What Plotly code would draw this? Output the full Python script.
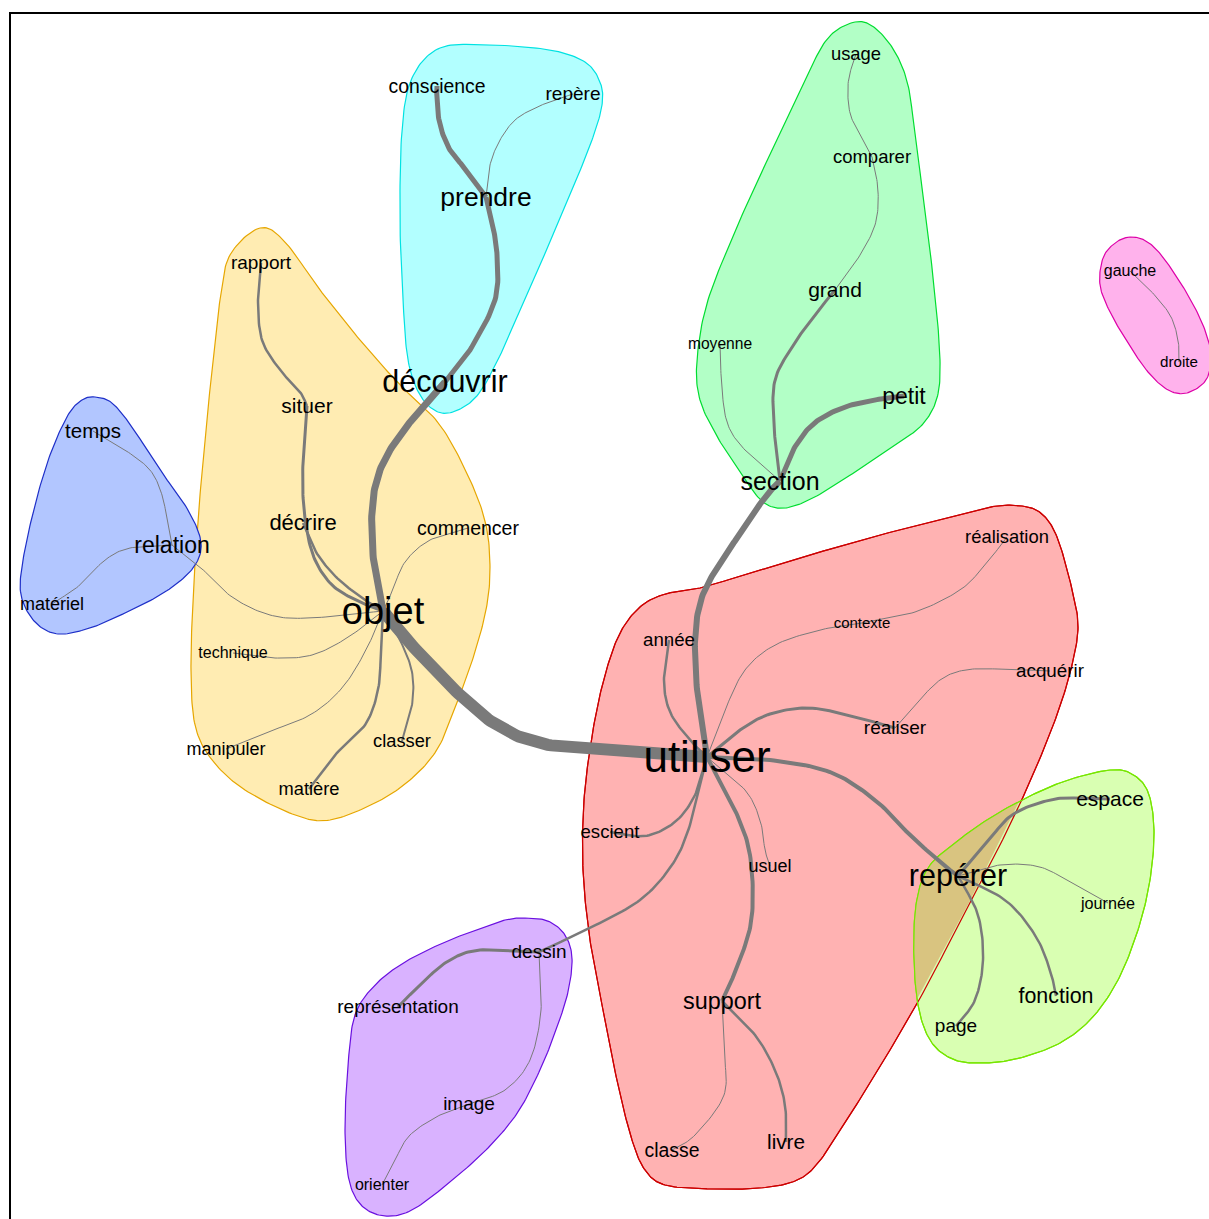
import numpy as np
import plotly.graph_objects as go

# ---------------- data ----------------
node_names = ["utiliser", "objet", "découvrir", "prendre", "conscience", "repère",
              "rapport", "situer", "décrire", "commencer", "technique", "manipuler",
              "matière", "classer", "temps", "relation", "matériel",
              "usage", "comparer", "grand", "moyenne", "petit", "section",
              "gauche", "droite",
              "réalisation", "contexte", "acquérir", "réaliser", "année", "escient",
              "usuel", "support", "classe", "livre",
              "repérer", "espace", "journée", "fonction", "page",
              "dessin", "représentation", "image", "orienter"]
node_x = [707, 383, 445, 486, 437, 573,
          261, 307, 303, 468, 233, 226,
          309, 402, 93, 172, 52,
          856, 872, 835, 720, 904, 780,
          1130, 1179,
          1007, 862, 1050, 895, 669, 610,
          770, 722, 672, 786,
          958, 1110, 1108, 1056, 956,
          539, 398, 469, 382]
node_y = [757, 611, 382, 197, 86, 94,
          263, 406, 523, 528, 653, 749,
          789, 741, 431, 545, 604,
          54, 157, 290, 344, 396, 481,
          271, 362,
          537, 623, 671, 728, 640, 832,
          866, 1001, 1150, 1142,
          876, 799, 903, 996, 1026,
          952, 1007, 1104, 1185]
node_size = [44, 38, 30.5, 26.5, 19.4, 19,
             19, 21, 22, 19.5, 16, 18,
             18.3, 18.3, 20.5, 23, 18,
             18.4, 18.5, 21, 15.6, 23, 25,
             16, 15.2,
             18.4, 15, 18.8, 19, 18.7, 18.6,
             18, 23.4, 19.4, 20.7,
             30.5, 21, 16.2, 21.4, 19,
             19, 19, 19, 16]

edge_src = ["utiliser", "objet", "découvrir", "prendre", "prendre", "utiliser", "section",
            "section", "grand", "comparer", "section", "gauche", "rapport", "situer",
            "décrire", "relation", "technique", "manipuler", "matière", "classer",
            "commencer", "temps", "relation", "année", "utiliser", "contexte",
            "utiliser", "réaliser", "utiliser", "utiliser", "utiliser", "utiliser",
            "utiliser", "support", "support", "repérer", "repérer", "repérer",
            "repérer", "dessin", "dessin", "image"]
edge_dst = ["objet", "découvrir", "prendre", "conscience", "repère", "section", "petit",
            "grand", "comparer", "usage", "moyenne", "droite", "situer", "objet",
            "objet", "objet", "objet", "objet", "objet", "objet",
            "objet", "relation", "matériel", "utiliser", "contexte", "réalisation",
            "réaliser", "acquérir", "repérer", "escient", "usuel", "support",
            "dessin", "classe", "livre", "espace", "journée", "fonction",
            "page", "représentation", "image", "orienter"]
edge_weight = [12, 7, 5, 5, 1, 6, 5,
               3, 1, 1, 1, 1, 2.5, 3,
               2.5, 1, 1, 1, 2.5, 2,
               1, 1, 1, 2.5, 1, 1,
               3, 1, 4, 2.5, 1, 4,
               2.5, 1, 2.5, 3, 1, 2.5,
               2.5, 3, 1, 1]
edge_bends = [
    [(640, 753), (590, 750), (535, 742), (495, 724), (460, 695), (425, 660)],
    [(374, 565), (372, 510), (380, 470), (400, 435), (425, 405)],
    [(470, 350), (495, 300), (497, 255), (492, 222)],
    [(468, 172), (450, 150), (440, 125), (437, 100)],
    [(490, 165), (500, 140), (515, 120), (535, 108), (555, 100)],
    [(698, 700), (695, 640), (702, 597), (722, 560), (745, 527), (765, 497)],
    [(792, 452), (812, 425), (842, 408), (875, 400)],
    [(775, 440), (774, 385), (790, 350), (815, 315)],
    [(857, 260), (875, 225), (878, 190)],
    [(860, 135), (850, 113), (848, 85), (853, 62)],
    [(745, 450), (728, 425), (722, 390)],
    [(1150, 290), (1170, 315), (1178, 340)],
    [(258, 300), (262, 340), (280, 370), (300, 392)],
    [(303, 460), (304, 510), (313, 555), (332, 585), (360, 602)],
    [(316, 552), (336, 577), (362, 598)],
    [(200, 567), (232, 597), (270, 615), (310, 618)],
    [(275, 658), (312, 655), (347, 638)],
    [(265, 733), (310, 715), (342, 688), (366, 650)],
    [(335, 755), (365, 725), (378, 690), (381, 650)],
    [(412, 705), (412, 672), (400, 640)],
    [(430, 540), (405, 562), (392, 592)],
    [(125, 450), (150, 470), (162, 495), (168, 525)],
    [(130, 548), (105, 560), (80, 585)],
    [(664, 680), (670, 712), (690, 740)],
    [(725, 710), (745, 670), (775, 645), (820, 630)],
    [(915, 612), (960, 590), (985, 565)],
    [(740, 730), (770, 714), (810, 708), (855, 717)],
    [(915, 705), (940, 680), (965, 670), (1000, 669)],
    [(770, 760), (830, 772), (875, 800), (910, 835), (940, 862)],
    [(695, 795), (675, 822), (645, 836)],
    [(745, 790), (760, 820), (765, 850)],
    [(735, 810), (750, 855), (752, 915), (740, 960)],
    [(690, 825), (672, 865), (640, 900), (590, 928)],
    [(724, 1050), (724, 1095), (695, 1135)],
    [(755, 1035), (775, 1070), (785, 1105)],
    [(985, 845), (1012, 815), (1050, 800), (1080, 798)],
    [(1000, 865), (1040, 867), (1075, 885)],
    [(1005, 900), (1035, 935), (1050, 970)],
    [(978, 915), (983, 960), (975, 1000)],
    [(480, 950), (450, 960), (425, 980)],
    [(541, 1010), (530, 1060), (505, 1090)],
    [(440, 1115), (410, 1135), (395, 1160)],
]

cluster_names = ["objet", "prendre", "relation", "section", "gauche", "utiliser", "repérer", "dessin"]
cluster_colors = ["#FFBF00", "#00FFFF", "#0040FF", "#00FF40", "#FF00BF", "#FF0000", "#80FF00", "#8000FF"]
cluster_borders = ["#E6A600", "#00E2E2", "#1E2FC8", "#00DD30", "#DD00A8", "#CC0000", "#77E600", "#6A10E0"]
cluster_hulls = [
    [(260, 228), (285, 242), (320, 290), (360, 340), (400, 385), (440, 425), (470, 480),
     (486, 525), (490, 570), (486, 610), (474, 655), (458, 700), (438, 748), (410, 780),
     (375, 803), (330, 820), (295, 815), (245, 790), (212, 760), (195, 725), (191, 670),
     (193, 600), (198, 520), (205, 440), (212, 370), (220, 300), (230, 255)],
    [(440, 48), (490, 45), (550, 50), (585, 62), (600, 82), (602, 105), (592, 140),
     (572, 190), (540, 265), (505, 345), (480, 392), (458, 410), (438, 412), (420, 395),
     (408, 360), (403, 300), (400, 220), (402, 130), (412, 78)],
    [(95, 397), (112, 403), (132, 427), (160, 470), (188, 510), (201, 543), (193, 568),
     (165, 592), (125, 613), (90, 628), (58, 634), (35, 622), (21, 595), (23, 560),
     (35, 505), (50, 455), (68, 415), (82, 400)],
    [(855, 22), (875, 28), (895, 52), (908, 85), (915, 135), (925, 210), (935, 295),
     (940, 360), (937, 398), (922, 425), (895, 445), (855, 472), (815, 497), (785, 508),
     (763, 502), (742, 475), (718, 438), (700, 400), (697, 360), (708, 300), (740, 220),
     (772, 150), (805, 80), (828, 38)],
    [(1130, 237), (1146, 241), (1162, 256), (1185, 290), (1203, 325), (1211, 355),
     (1206, 380), (1187, 393), (1168, 390), (1148, 372), (1128, 343), (1110, 312),
     (1100, 285), (1103, 258), (1115, 243)],
    [(700, 588), (760, 570), (820, 552), (880, 535), (940, 520), (990, 507), (1022, 506),
     (1042, 514), (1057, 537), (1071, 585), (1078, 625), (1072, 665), (1058, 712),
     (1035, 770), (1005, 835), (968, 905), (930, 980), (890, 1050), (850, 1115),
     (818, 1163), (795, 1181), (760, 1188), (710, 1189), (665, 1185), (645, 1170),
     (632, 1140), (618, 1085), (603, 1010), (590, 940), (583, 870), (584, 800),
     (593, 730), (605, 675), (620, 633), (640, 607), (665, 594)],
    [(1110, 770), (1132, 774), (1148, 792), (1154, 830), (1150, 880), (1138, 930),
     (1118, 980), (1092, 1018), (1060, 1043), (1020, 1058), (985, 1063), (955, 1060),
     (932, 1043), (919, 1010), (914, 960), (916, 905), (928, 868), (955, 843),
     (990, 818), (1030, 796), (1068, 780)],
    [(525, 918), (548, 921), (565, 935), (572, 958), (568, 992), (556, 1030),
     (540, 1070), (518, 1112), (488, 1148), (450, 1182), (412, 1210), (385, 1216),
     (362, 1206), (349, 1180), (345, 1130), (348, 1065), (355, 1015), (375, 985),
     (405, 962), (445, 942), (482, 928), (505, 920)],
]
overlap_color = "rgb(217,196,128)"
edge_color = "rgb(122,122,122)"


# ---------------- helpers ----------------
def catmull_closed(pts, n=16):
    P = np.array(pts, dtype=float)
    N = len(P)
    out = []
    for i in range(N):
        p0, p1, p2, p3 = P[(i - 1) % N], P[i], P[(i + 1) % N], P[(i + 2) % N]
        for t in np.linspace(0, 1, n, endpoint=False):
            t2, t3 = t * t, t * t * t
            pt = 0.5 * ((2 * p1) + (-p0 + p2) * t + (2 * p0 - 5 * p1 + 4 * p2 - p3) * t2
                        + (-p0 + 3 * p1 - 3 * p2 + p3) * t3)
            out.append(pt)
    out.append(out[0])
    return np.array(out)


def catmull_open(pts, n=16):
    P = np.array(pts, dtype=float)
    P = np.vstack([2 * P[0] - P[1], P, 2 * P[-1] - P[-2]])
    out = []
    for i in range(1, len(P) - 2):
        p0, p1, p2, p3 = P[i - 1], P[i], P[i + 1], P[i + 2]
        for t in np.linspace(0, 1, n, endpoint=False):
            t2, t3 = t * t, t * t * t
            pt = 0.5 * ((2 * p1) + (-p0 + p2) * t + (2 * p0 - 5 * p1 + 4 * p2 - p3) * t2
                        + (-p0 + 3 * p1 - 3 * p2 + p3) * t3)
            out.append(pt)
    out.append(P[-2])
    return np.array(out)


def signed_area(poly):
    x, y = poly[:, 0], poly[:, 1]
    return 0.5 * np.sum(x[:-1] * y[1:] - x[1:] * y[:-1])


def clip_poly(subject, clipper):
    orient = np.sign(signed_area(clipper))
    out = [tuple(p) for p in subject[:-1]]
    C = clipper[:-1]
    for i in range(len(C)):
        a, b = C[i], C[(i + 1) % len(C)]
        inp = out
        out = []
        if not inp:
            break

        def inside(p):
            return orient * ((b[0] - a[0]) * (p[1] - a[1]) - (b[1] - a[1]) * (p[0] - a[0])) >= 0

        def inter(p, q):
            d1 = np.array(q) - np.array(p)
            d2 = b - a
            den = d1[0] * d2[1] - d1[1] * d2[0]
            if abs(den) < 1e-12:
                return p
            t = ((a[0] - p[0]) * d2[1] - (a[1] - p[1]) * d2[0]) / den
            return (p[0] + t * d1[0], p[1] + t * d1[1])

        s = inp[-1]
        for e in inp:
            if inside(e):
                if not inside(s):
                    out.append(inter(s, e))
                out.append(e)
            elif inside(s):
                out.append(inter(s, e))
            s = e
    if out:
        out.append(out[0])
    return np.array(out)


def solid_tint(hexcol, a=0.3):
    h = hexcol.lstrip("#")
    r, g, b = int(h[0:2], 16), int(h[2:4], 16), int(h[4:6], 16)
    f = lambda c: int(round(a * c + (1 - a) * 255))
    return f"rgb({f(r)},{f(g)},{f(b)})"


pos = {n: (x, y) for n, x, y in zip(node_names, node_x, node_y)}

fig = go.Figure()

# hull fills
smoothed = {}
for name, col, bcol, pts in zip(cluster_names, cluster_colors, cluster_borders, cluster_hulls):
    sm = catmull_closed(pts)
    smoothed[name] = sm
    fig.add_trace(go.Scatter(x=sm[:, 0], y=sm[:, 1], mode="lines", fill="toself",
                             fillcolor=solid_tint(col), line=dict(color=bcol, width=1.2),
                             hoverinfo="skip", showlegend=False))

# overlap between utiliser and repérer clusters
ov = clip_poly(smoothed["repérer"], smoothed["utiliser"])
if len(ov) > 2:
    fig.add_trace(go.Scatter(x=ov[:, 0], y=ov[:, 1], mode="lines", fill="toself",
                             fillcolor=overlap_color, line=dict(width=0),
                             hoverinfo="skip", showlegend=False))
for name in ["utiliser", "repérer"]:
    bcol = cluster_borders[cluster_names.index(name)]
    sm = smoothed[name]
    fig.add_trace(go.Scatter(x=sm[:, 0], y=sm[:, 1], mode="lines",
                             line=dict(color=bcol, width=1.2),
                             hoverinfo="skip", showlegend=False))

# edges
for s, d, w, b in zip(edge_src, edge_dst, edge_weight, edge_bends):
    pts = [pos[s]] + list(b) + [pos[d]]
    cur = catmull_open(pts)
    fig.add_trace(go.Scatter(x=cur[:, 0], y=cur[:, 1], mode="lines",
                             line=dict(color=edge_color, width=w),
                             hoverinfo="skip", showlegend=False))

# labels (text box centre sits a little above the glyph centre, so nudge down)
label_y = [y + 0.09 * s for y, s in zip(node_y, node_size)]
fig.add_trace(go.Scatter(x=node_x, y=label_y, mode="text", text=node_names,
                         textposition="middle center",
                         textfont=dict(family="Liberation Sans, Arial, sans-serif",
                                       size=node_size, color="black"),
                         hoverinfo="skip", showlegend=False))

fig.add_shape(type="rect", x0=10, y0=13, x1=1216, y1=1226, xref="x", yref="y",
              line=dict(color="black", width=2), layer="above")

fig.update_layout(width=1209, height=1219, margin=dict(l=0, r=0, t=0, b=0),
                  paper_bgcolor="white", plot_bgcolor="white", showlegend=False,
                  xaxis=dict(range=[0, 1209], visible=False, fixedrange=True),
                  yaxis=dict(range=[1219, 0], visible=False, fixedrange=True))

fig.write_html("out.html", config={"displayModeBar": False},
               post_script="document.body.style.margin='0';document.body.style.overflow='hidden';")
